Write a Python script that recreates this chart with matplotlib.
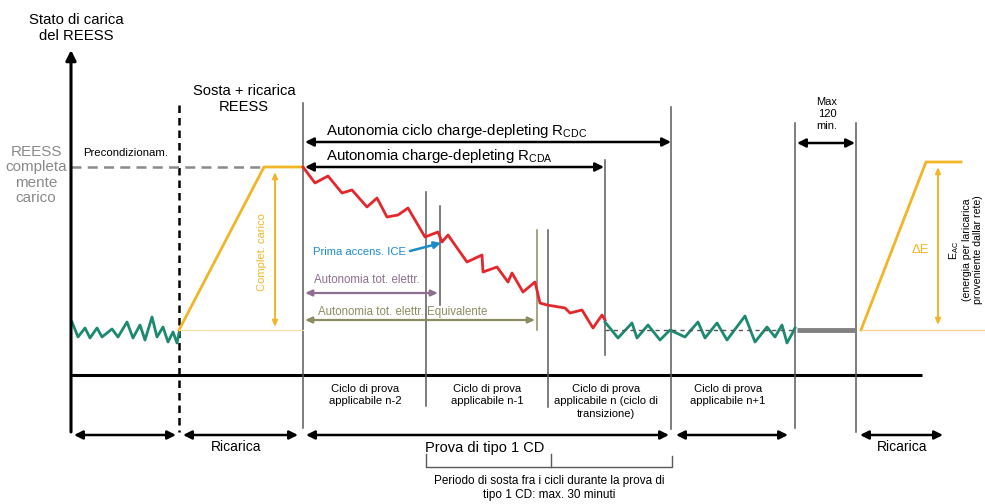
import matplotlib
matplotlib.use("Agg")
import matplotlib.pyplot as plt

plt.rcParams['font.family'] = ['Liberation Sans', 'DejaVu Sans']

# ---- data (pixel-space diagram coordinates, y downward) ----
green_left_x = [72, 78, 85, 90, 97, 102, 112, 118, 127, 133, 140, 145, 152, 157, 163, 168, 173, 177, 179]
green_left_y = [322, 337, 328, 338, 328, 337, 329, 337, 322, 338, 325, 340, 317, 337, 327, 342, 332, 343, 333]

red_x = [303, 315, 328, 342, 352, 367, 377, 387, 398, 408, 425, 438, 442, 448, 467, 482, 483, 497, 508, 512,
         523, 535, 540, 547, 565, 570, 582, 593, 602, 605]
red_y = [167, 183, 176, 193, 190, 207, 198, 217, 215, 208, 237, 232, 242, 235, 262, 255, 272, 267, 282, 273,
         292, 282, 303, 305, 308, 313, 310, 328, 315, 320]

green_right_x = [605, 618, 632, 637, 648, 660, 670, 685, 698, 705, 717, 727, 745, 755, 767, 775, 782, 787, 793, 795]
green_right_y = [322, 338, 323, 338, 325, 340, 330, 337, 322, 338, 323, 340, 316, 342, 327, 337, 325, 343, 332, 328]

charge1_x = [179, 264, 303]
charge1_y = [330, 167, 167]
charge2_x = [861, 926, 961]
charge2_y = [330, 162, 162]

cycle_labels = ["Ciclo di prova\napplicabile n-2", "Ciclo di prova\napplicabile n-1",
                "Ciclo di prova\napplicabile n (ciclo di\ntransizione)", "Ciclo di prova\napplicabile n+1"]
cycle_label_x = [365, 487, 606, 728]

RED = "#e5262b"
GREEN = "#1b8a70"
YELLOW = "#f3b526"
GREY = "#5a5a5a"
BLUE = "#1b8ccb"
PURPLE = "#8d6f8f"
OLIVE = "#8c8c62"

fig = plt.figure(figsize=(9.85, 5.04), dpi=100)
ax = fig.add_axes([0, 0, 1, 1])
ax.set_xlim(0, 985)
ax.set_ylim(504, 0)
ax.axis('off')


def darrow(x0, x1, y, color='black', lw=1.8, hw=0.25, hl=0.5, style='<|-|>'):
    ax.annotate('', xy=(x1, y), xytext=(x0, y),
                arrowprops=dict(arrowstyle=f'{style},head_width={hw},head_length={hl}',
                                color=color, lw=lw, shrinkA=0, shrinkB=0))


def varrow(x, y0, y1, color='black', lw=1.8, hw=0.25, hl=0.5, style='<|-|>'):
    ax.annotate('', xy=(x, y1), xytext=(x, y0),
                arrowprops=dict(arrowstyle=f'{style},head_width={hw},head_length={hl}',
                                color=color, lw=lw, shrinkA=0, shrinkB=0))

# axes of the diagram
varrow(71, 432, 50, lw=2.2, style='-|>', hw=0.3, hl=0.6)
ax.plot([71, 922], [375, 375], color='black', lw=2.2, solid_capstyle='butt')

# dashed vertical
ax.plot([179, 179], [105, 432], color='black', lw=1.8, ls=(0, (3, 2)))

# thin vertical lines
vlines = [(303, 103, 428, GREY), (426, 192, 406, GREY), (440, 206, 305, GREY),
          (537, 230, 330, OLIVE), (548, 230, 407, GREY), (605, 160, 355, GREY),
          (671, 107, 429, GREY), (795, 123, 428, GREY), (856, 123, 432, GREY)]
for x, y0, y1, c in vlines:
    ax.plot([x, x], [y0, y1], color=c, lw=1.1)

# grey dashed "fully charged" line
ax.plot([71, 264], [167, 167], color='#8a8a8a', lw=1.8, ls=(0, (4, 2.5)))

# yellow charge lines
ax.plot(charge1_x, charge1_y, color=YELLOW, lw=2.0)
ax.plot([179, 303], [330, 330], color='#f7dca0', lw=0.8)
ax.plot(charge2_x, charge2_y, color=YELLOW, lw=2.0)
ax.plot([861, 985], [330, 330], color='#f7d38a', lw=0.9)
varrow(275, 327, 172, color=YELLOW, lw=1.4, hw=0.15, hl=0.35)
varrow(938, 325, 167, color=YELLOW, lw=1.4, hw=0.15, hl=0.35)

# zigzags
ax.plot(green_left_x, green_left_y, color=GREEN, lw=2.0)
ax.plot(red_x, red_y, color=RED, lw=2.0)
ax.plot(green_right_x, green_right_y, color=GREEN, lw=2.0)
ax.plot([605, 795], [330, 330], color='#555555', lw=1.0, ls=(0, (3, 3)))
ax.plot([797, 855], [330, 330], color='#808080', lw=3.5, solid_capstyle='butt')

# range arrows
darrow(305, 671, 142)
darrow(305, 604, 167)
darrow(797, 855, 143)
darrow(305, 438, 293, color=PURPLE, lw=1.6, hw=0.18, hl=0.4)
darrow(305, 535, 320, color=OLIVE, lw=1.6, hw=0.18, hl=0.4)
ax.annotate('', xy=(441, 243), xytext=(410, 251),
            arrowprops=dict(arrowstyle='-|>,head_width=0.2,head_length=0.4', color=BLUE, lw=1.8,
                            shrinkA=0, shrinkB=0))

# bottom arrows
for x0, x1 in [(74, 176), (183, 298), (306, 669), (676, 788), (860, 943)]:
    darrow(x0, x1, 435)

# bracket
ax.plot([426, 426, 672, 672], [454, 467, 467, 456], color=GREY, lw=1.0)
ax.plot([551, 551], [454, 467], color=GREY, lw=1.0)

# texts
ax.text(76, 28, "Stato di carica\ndel REESS", ha='center', va='center', fontsize=10.7, linespacing=1.2)
ax.text(244, 99, "Sosta + ricarica\nREESS", ha='center', va='center', fontsize=10.6, linespacing=1.2)
ax.text(83, 153, "Precondizionam.", ha='left', va='center', fontsize=8.2)
ax.text(36, 175, "REESS\ncompleta\nmente\ncarico", ha='center', va='center', fontsize=11,
        color='#8a8a8a', linespacing=1.1)

ax.text(326, 131, r"Autonomia ciclo charge-depleting R$_{\mathregular{CDC}}$", ha='left', va='center', fontsize=10.8)
ax.text(326, 156, r"Autonomia charge-depleting R$_{\mathregular{CDA}}$", ha='left', va='center', fontsize=10.8)
ax.text(827, 114, "Max\n120\nmin.", ha='center', va='center', fontsize=8, linespacing=1.3)

ax.text(313, 252, "Prima accens. ICE", ha='left', va='center', fontsize=8.1, color=BLUE)
ax.text(314, 280, "Autonomia tot. elettr.", ha='left', va='center', fontsize=8.3, color=PURPLE)
ax.text(318, 312, "Autonomia tot. elettr. Equivalente", ha='left', va='center', fontsize=8.3, color=OLIVE)

ax.text(262, 252, "Complet. carico", ha='center', va='center', fontsize=8, color=YELLOW, rotation=90)
ax.text(920, 250, "ΔE", ha='center', va='center', fontsize=9.5, color=YELLOW)
ax.text(965, 250, "E$_{\\mathregular{AC}}$\n(energia per laricarica\nproveniente dallar rete)",
        ha='center', va='center', fontsize=7.6, rotation=90, linespacing=1.1)

for lab, x in zip(cycle_labels, cycle_label_x):
    ax.text(x, 384, lab, ha='center', va='top', fontsize=8.1, linespacing=1.3)

ax.text(236, 447, "Ricarica", ha='center', va='center', fontsize=10)
ax.text(485, 448, "Prova di tipo 1 CD", ha='center', va='center', fontsize=10.5)
ax.text(902, 447, "Ricarica", ha='center', va='center', fontsize=10)
ax.text(549, 488, "Periodo di sosta fra i cicli durante la prova di\ntipo 1 CD: max. 30 minuti",
        ha='center', va='center', fontsize=8.5, linespacing=1.3)

fig.savefig("out.png", dpi=100)
